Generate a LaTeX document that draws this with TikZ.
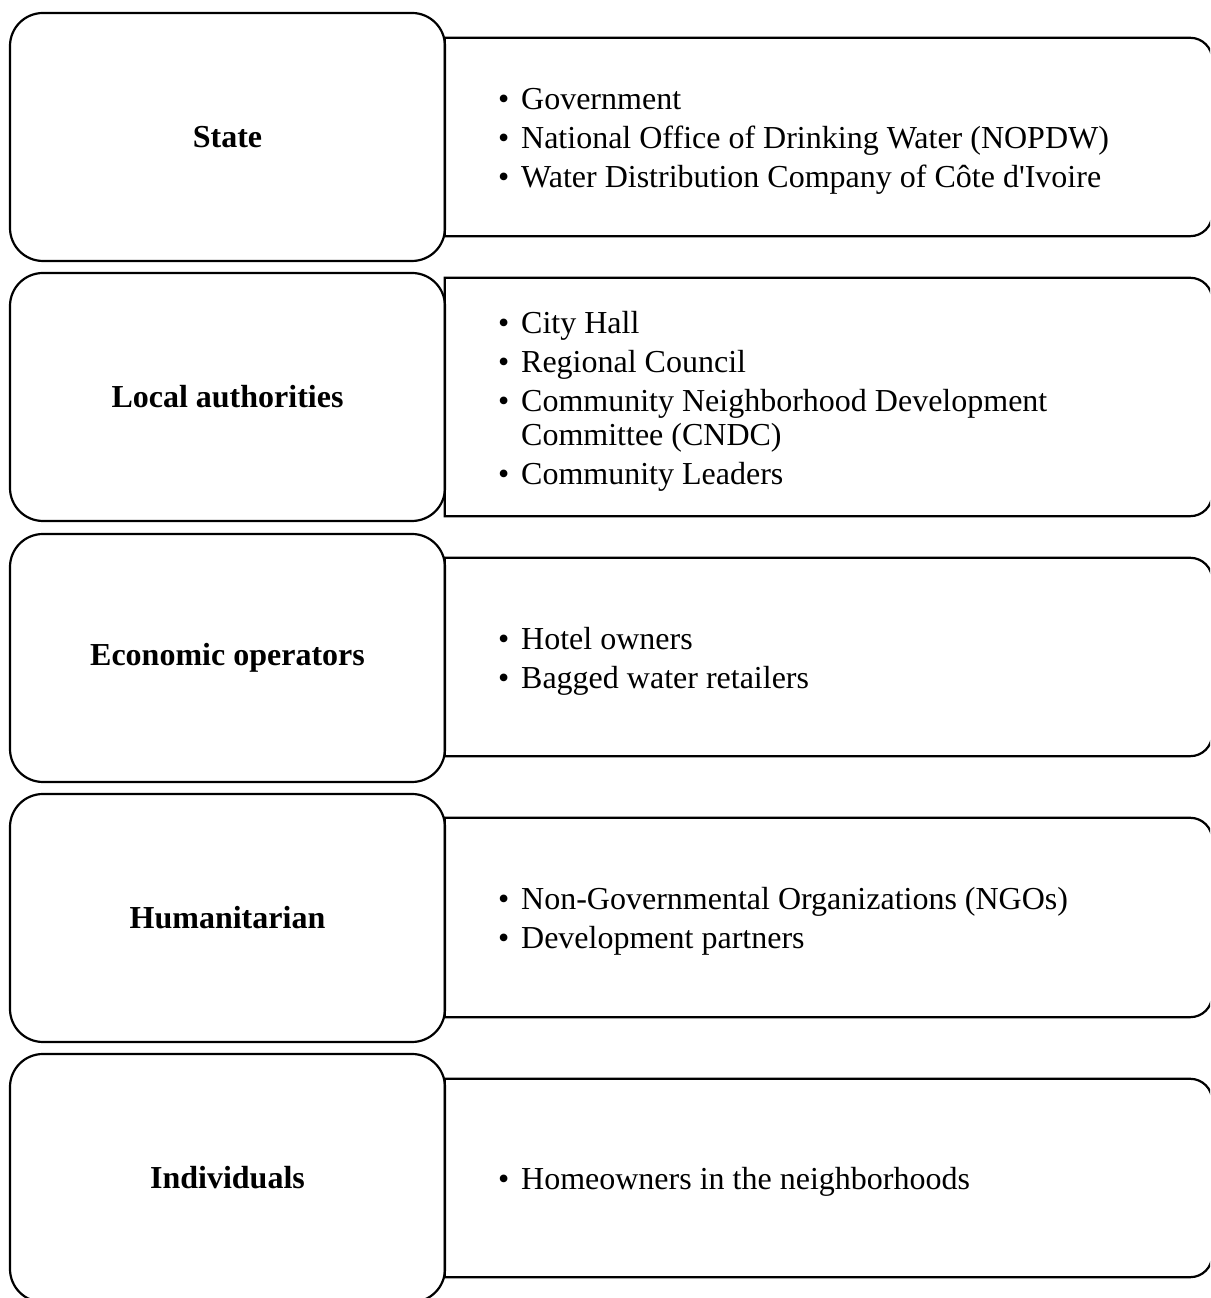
\documentclass[tikz,border=0pt]{standalone}
\usepackage{fontspec}
\setmainfont{Liberation Serif}
\begin{document}
\begin{tikzpicture}[x=1pt,y=1pt,
  catbox/.style={draw, line width=2.2pt, rounded corners=33pt, minimum width=435pt, inner sep=0pt,
    font=\fontsize{32}{36}\selectfont\bfseries},
  listbox/.style={draw=none, minimum width=767pt, inner sep=0pt},
  listtext/.style={anchor=west, inner sep=0pt, align=left, font=\fontsize{32}{34}\selectfont},
  frame/.style={line width=2.2pt}
]
\useasboundingbox (0,0) rectangle (1210,1298);
\clip (0,0) rectangle (1210,1298);
\newcommand{\bul}{\makebox[23pt][l]{\textbullet}}
\newcommand{\rframe}[1]{\draw[frame] (#1.south west) -- (#1.north west) -- ([xshift=-22pt]#1.north east) arc(90:0:22pt) -- ([yshift=22pt]#1.south east) arc(0:-90:22pt) -- cycle;}

% left category boxes
\node[catbox, minimum height=248pt] (c1) at (227.5,1161) {State};
\node[catbox, minimum height=248pt] (c2) at (227.5,901) {Local authorities};
\node[catbox, minimum height=248pt] (c3) at (227.5,640) {Economic operators};
\node[catbox, minimum height=248pt] (c4) at (227.5,380) {Humanitarian};
\node[catbox, minimum height=248pt] (c5) at (227.5,120) {Individuals};

% right list boxes
\node[listbox, minimum height=198pt] (r1) at (828.5,1161) {};
\node[listbox, minimum height=238pt] (r2) at (828.5,901) {};
\node[listbox, minimum height=198pt] (r3) at (828.5,641) {};
\node[listbox, minimum height=199pt] (r4) at (828.5,380.5) {};
\node[listbox, minimum height=198pt] (r5) at (828.5,120) {};
\rframe{r1}
\rframe{r2}
\rframe{r3}
\rframe{r4}
\rframe{r5}

\node[listtext] (t1) at (498,1157) {\bul Government\\[5pt]\bul National Office of Drinking Water (NOPDW)\\[5pt]\bul Water Distribution Company of Côte d\textquotesingle Ivoire};
\node[listtext] (t2) at (498,897) {\bul City Hall\\[5pt]\bul Regional Council\\[5pt]\bul Community Neighborhood Development\\\hspace*{23pt}Committee (CNDC)\\[5pt]\bul Community Leaders};
\node[listtext] (t3) at (498,637) {\bul Hotel owners\\[5pt]\bul Bagged water retailers};
\node[listtext] (t4) at (498,376.5) {\bul Non-Governmental Organizations (NGOs)\\[5pt]\bul Development partners};
\node[listtext] (t5) at (498,116) {\bul Homeowners in the neighborhoods};
\end{tikzpicture}
\end{document}
